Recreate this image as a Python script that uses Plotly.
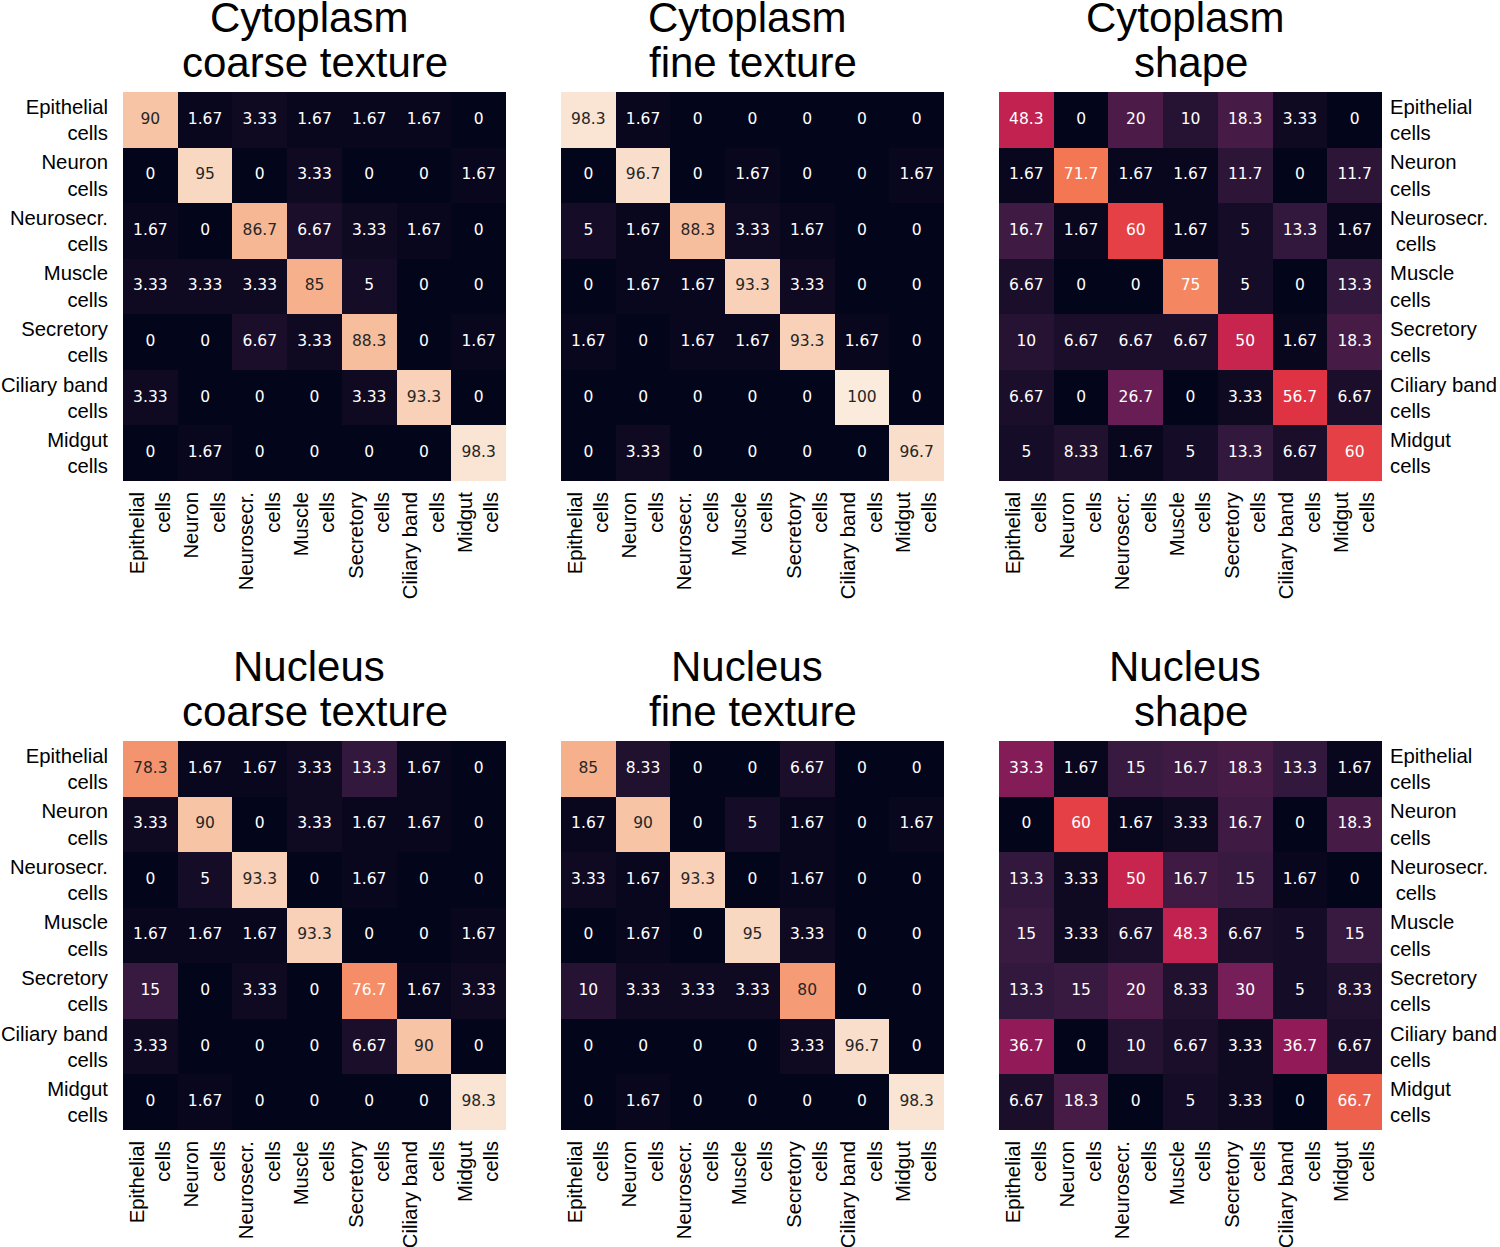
import plotly.graph_objects as go

# ---------------- data ----------------
labels = ["Epithelial\ncells", "Neuron\ncells", "Neurosecr.\n\u00a0cells", "Muscle\ncells",
          "Secretory\ncells", "Ciliary band\ncells", "Midgut\ncells"]

titles = ["Cytoplasm\u00a0\ncoarse texture", "Cytoplasm\u00a0\nfine texture", "Cytoplasm\u00a0\nshape",
          "Nucleus\u00a0\ncoarse texture", "Nucleus\u00a0\nfine texture", "Nucleus\u00a0\nshape"]

cyto_coarse = [
    [90, 1.67, 3.33, 1.67, 1.67, 1.67, 0],
    [0, 95, 0, 3.33, 0, 0, 1.67],
    [1.67, 0, 86.7, 6.67, 3.33, 1.67, 0],
    [3.33, 3.33, 3.33, 85, 5, 0, 0],
    [0, 0, 6.67, 3.33, 88.3, 0, 1.67],
    [3.33, 0, 0, 0, 3.33, 93.3, 0],
    [0, 1.67, 0, 0, 0, 0, 98.3],
]
cyto_fine = [
    [98.3, 1.67, 0, 0, 0, 0, 0],
    [0, 96.7, 0, 1.67, 0, 0, 1.67],
    [5, 1.67, 88.3, 3.33, 1.67, 0, 0],
    [0, 1.67, 1.67, 93.3, 3.33, 0, 0],
    [1.67, 0, 1.67, 1.67, 93.3, 1.67, 0],
    [0, 0, 0, 0, 0, 100, 0],
    [0, 3.33, 0, 0, 0, 0, 96.7],
]
cyto_shape = [
    [48.3, 0, 20, 10, 18.3, 3.33, 0],
    [1.67, 71.7, 1.67, 1.67, 11.7, 0, 11.7],
    [16.7, 1.67, 60, 1.67, 5, 13.3, 1.67],
    [6.67, 0, 0, 75, 5, 0, 13.3],
    [10, 6.67, 6.67, 6.67, 50, 1.67, 18.3],
    [6.67, 0, 26.7, 0, 3.33, 56.7, 6.67],
    [5, 8.33, 1.67, 5, 13.3, 6.67, 60],
]
nuc_coarse = [
    [78.3, 1.67, 1.67, 3.33, 13.3, 1.67, 0],
    [3.33, 90, 0, 3.33, 1.67, 1.67, 0],
    [0, 5, 93.3, 0, 1.67, 0, 0],
    [1.67, 1.67, 1.67, 93.3, 0, 0, 1.67],
    [15, 0, 3.33, 0, 76.7, 1.67, 3.33],
    [3.33, 0, 0, 0, 6.67, 90, 0],
    [0, 1.67, 0, 0, 0, 0, 98.3],
]
nuc_fine = [
    [85, 8.33, 0, 0, 6.67, 0, 0],
    [1.67, 90, 0, 5, 1.67, 0, 1.67],
    [3.33, 1.67, 93.3, 0, 1.67, 0, 0],
    [0, 1.67, 0, 95, 3.33, 0, 0],
    [10, 3.33, 3.33, 3.33, 80, 0, 0],
    [0, 0, 0, 0, 3.33, 96.7, 0],
    [0, 1.67, 0, 0, 0, 0, 98.3],
]
nuc_shape = [
    [33.3, 1.67, 15, 16.7, 18.3, 13.3, 1.67],
    [0, 60, 1.67, 3.33, 16.7, 0, 18.3],
    [13.3, 3.33, 50, 16.7, 15, 1.67, 0],
    [15, 3.33, 6.67, 48.3, 6.67, 5, 15],
    [13.3, 15, 20, 8.33, 30, 5, 8.33],
    [36.7, 0, 10, 6.67, 3.33, 36.7, 6.67],
    [6.67, 18.3, 0, 5, 3.33, 0, 66.7],
]
matrices = [cyto_coarse, cyto_fine, cyto_shape, nuc_coarse, nuc_fine, nuc_shape]

# ---------------- style ----------------
W, H = 1500, 1247
X_PX = [(123, 506), (561, 944), (999, 1382)]
Y_PX = [(92, 481), (741, 1130)]

rocket_hex = ["#03051a", "#35193e", "#701f57", "#ad1759", "#e13342", "#f37651", "#f6b48f", "#faebdd"]
rocket = [[i / (len(rocket_hex) - 1), c] for i, c in enumerate(rocket_hex)]


def hex2rgb(h):
    h = h.lstrip("#")
    return [int(h[i:i + 2], 16) for i in (0, 2, 4)]


def cmap(v, vmin=0, vmax=100):
    t = min(max((v - vmin) / (vmax - vmin), 0), 1)
    for (p0, c0), (p1, c1) in zip(rocket[:-1], rocket[1:]):
        if p0 <= t <= p1:
            f = (t - p0) / (p1 - p0) if p1 > p0 else 0
            a, b = hex2rgb(c0), hex2rgb(c1)
            return [a[k] + f * (b[k] - a[k]) for k in range(3)]
    return hex2rgb(rocket_hex[-1])


def luminance(rgb):
    out = []
    for c in rgb:
        c = c / 255
        out.append(c / 12.92 if c <= 0.03928 else ((c + 0.055) / 1.055) ** 2.4)
    return 0.2126 * out[0] + 0.7152 * out[1] + 0.0722 * out[2]


label_font = dict(family="Liberation Sans, Arial, sans-serif", size=20.3, color="black")
annot_font_family = "DejaVu Sans, sans-serif"

fig = go.Figure()
layout = dict(
    width=W, height=H,
    margin=dict(l=0, r=0, t=0, b=0, autoexpand=False),
    paper_bgcolor="white", plot_bgcolor="white",
    showlegend=False,
)
annotations = []
ticktext = [s.replace("\n", "<br>") for s in labels]
n = len(labels)
idx = list(range(n))

for k, (mat, title) in enumerate(zip(matrices, titles)):
    r, c = divmod(k, 3)
    ax = "" if k == 0 else str(k + 1)
    xref, yref = "x" + ax, "y" + ax

    fig.add_trace(go.Heatmap(
        z=mat, x=idx, y=idx, xaxis=xref, yaxis=yref,
        colorscale=rocket, zmin=0, zmax=100, showscale=False, hoverinfo="skip",
    ))

    tx, ty, tt, tc = [], [], [], []
    for i, row in enumerate(mat):
        for j, v in enumerate(row):
            tx.append(j)
            ty.append(i)
            tt.append(f"{v:.3g}")
            tc.append("#262626" if luminance(cmap(v)) > 0.408 else "white")
    fig.add_trace(go.Scatter(
        x=tx, y=ty, text=tt, mode="text", xaxis=xref, yaxis=yref,
        textfont=dict(family=annot_font_family, size=15.5, color=tc),
        textposition="middle center", hoverinfo="skip",
    ))

    x0, x1 = X_PX[c]
    y0, y1 = Y_PX[r]
    layout["xaxis" + ax] = dict(
        domain=[x0 / W, x1 / W], anchor=yref, range=[-0.5, n - 0.5],
        tickvals=idx, ticktext=ticktext, tickangle=-90, tickfont=label_font,
        showgrid=False, zeroline=False, showline=False, ticks="",
        ticklabelstandoff=6, fixedrange=True, automargin=False,
    )
    layout["yaxis" + ax] = dict(
        domain=[1 - y1 / H, 1 - y0 / H], anchor=xref, range=[n - 0.5, -0.5],
        tickvals=idx, ticktext=ticktext, tickfont=label_font,
        showgrid=False, zeroline=False, showline=False, ticks="",
        side="right" if c == 2 else "left", showticklabels=(c != 1),
        ticklabelstandoff=7 if c == 2 else 14, fixedrange=True, automargin=False,
    )

    lines = title.split("\n")
    for li, line in enumerate(lines):
        annotations.append(dict(
            text=line, xref=xref + " domain", yref=yref + " domain",
            x=0.5, y=1, xanchor="center", yanchor="middle",
            yshift=30 + 44.5 * (len(lines) - 1 - li), showarrow=False,
            font=dict(family="Liberation Sans, Arial, sans-serif", size=42, color="black"),
        ))

layout["annotations"] = annotations
fig.update_layout(**layout)
fig.write_html(
    "out.html",
    config={"displayModeBar": False},
    post_script="document.body.style.margin='0';document.body.style.overflow='hidden';",
)
